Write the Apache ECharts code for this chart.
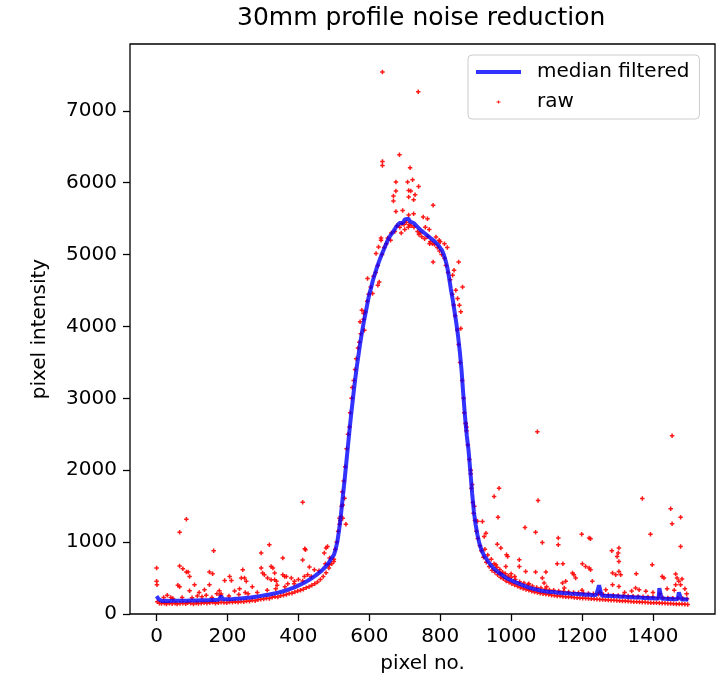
<!DOCTYPE html>
<html>
<head>
<meta charset="utf-8">
<script src="https://cdn.jsdelivr.net/npm/echarts@6/dist/echarts.min.js"></script>
<style>
html,body{margin:0;padding:0;background:#fff;}
#chart{width:724px;height:679px;}
</style>
</head>
<body>
<div id="chart"></div>
<script>
// ---- data ----
const chartTitle = '30mm profile noise reduction';
const xTicks = [0, 200, 400, 600, 800, 1000, 1200, 1400];
const yTicks = [0, 1000, 2000, 3000, 4000, 5000, 6000, 7000];

// median filtered profile [pixel no., intensity]
const medianFiltered = [
[0,250],[3,230],[6,205],[10,188],[15,182],[20,178],[25,185],[30,176],[35,182],[40,175],[45,183],[50,178],[55,184],[60,176],[65,183],[70,178],[75,186],[80,180],[85,185],[90,179],[95,187],[100,182],[105,188],[110,180],[115,187],[120,183],[125,190],[130,184],[135,191],[140,185],[145,193],[150,187],[155,195],[160,188],[165,196],[170,190],[175,198],[180,210],[183,250],[186,205],[190,198],[195,204],[200,198],[205,206],[210,200],[215,208],[220,203],[225,212],[230,206],[235,215],[240,210],[245,220],[250,215],[255,225],[260,220],[265,230],[270,226],[275,237],[280,232],[285,244],[290,240],[295,252],[300,248],[305,260],[310,256],[315,268],[320,265],[325,278],[330,275],[335,288],[340,286],[345,300],[350,298],[355,313],[360,312],[365,328],[370,328],[375,345],[380,346],[385,364],[390,366],[395,385],[400,388],[405,408],[410,412],[415,432],[420,438],[425,460],[430,468],[435,490],[440,500],[445,525],[450,535],[455,560],[460,572],[465,600],[470,615],[475,650],[480,670],[485,710],[490,735],[495,790],[500,820],[505,900],[510,1010],[515,1180],[520,1380],[525,1620],[530,1850],[535,2100],[540,2350],[545,2600],[550,2830],[555,3050],[560,3260],[565,3450],[570,3620],[575,3790],[580,3940],[585,4080],[590,4200],[595,4330],[600,4450],[605,4540],[610,4640],[615,4720],[620,4800],[625,4870],[630,4940],[635,5000],[640,5060],[645,5120],[650,5180],[655,5230],[660,5270],[665,5300],[670,5340],[675,5380],[680,5410],[685,5440],[690,5460],[695,5440],[700,5490],[705,5470],[710,5500],[715,5460],[720,5480],[725,5440],[730,5430],[735,5390],[740,5380],[745,5340],[750,5330],[755,5300],[760,5290],[765,5260],[770,5250],[775,5220],[780,5200],[785,5180],[790,5160],[795,5130],[800,5090],[805,5060],[810,5000],[815,4920],[820,4820],[825,4680],[830,4520],[835,4380],[840,4220],[845,4060],[850,3880],[855,3660],[860,3400],[865,3060],[870,2740],[875,2480],[880,2270],[885,1980],[890,1680],[895,1420],[900,1240],[905,1100],[910,990],[915,910],[920,850],[925,800],[930,770],[935,730],[940,700],[945,665],[950,640],[955,615],[960,600],[965,575],[970,560],[975,540],[980,530],[985,505],[990,500],[995,480],[1000,470],[1005,458],[1010,450],[1015,436],[1020,430],[1025,416],[1030,410],[1035,396],[1040,390],[1045,376],[1050,370],[1055,360],[1060,355],[1065,346],[1070,345],[1075,336],[1080,335],[1085,324],[1090,325],[1095,316],[1100,318],[1110,305],[1120,305],[1130,296],[1140,296],[1150,287],[1160,290],[1170,280],[1180,282],[1190,274],[1200,276],[1210,268],[1220,270],[1230,262],[1240,265],[1245,262],[1248,400],[1252,405],[1255,258],[1260,262],[1270,252],[1280,255],[1290,246],[1300,248],[1310,240],[1320,242],[1330,234],[1340,236],[1350,228],[1360,232],[1370,224],[1380,226],[1390,218],[1400,222],[1410,214],[1416,218],[1418,360],[1422,358],[1424,212],[1430,215],[1440,208],[1450,212],[1460,204],[1470,208],[1473,300],[1477,295],[1480,202],[1490,205],[1500,198]
];

// raw samples near the profile, left tail
const rawLeftTail = [
[2,170],[8,150],[14,145],[22,150],[28,140],[36,148],[44,142],[52,150],[58,138],[66,146],[74,150],[82,142],[88,155],[96,148],[104,140],[112,152],[118,145],[126,150],[134,158],[142,148],[150,155],[158,162],[166,150],[174,158],[182,165],[190,160],[198,155],[206,168],[214,162],[222,170],[230,165],[238,175],[246,170],[254,182],[262,178],[270,190],[278,185],[286,198],[294,205],[302,210],[310,220],[318,215],[326,232],[334,240],[342,238],[350,255],[358,262],[366,270],[374,285],[382,290],[390,305],[398,320],[406,330],[414,345],[422,365],[430,378],[438,400],[446,420],[454,445],[462,480],[470,520],[478,575],[486,640],[494,700],
[20,230],[46,215],[72,230],[100,225],[128,240],[156,230],[180,260],[204,250],[232,270],[258,280],[284,300],[312,330],[336,350],[362,380],[388,420],[412,460],[436,520],[458,600],[476,700],[488,780],
[30,260],[120,300],[220,320],[270,380],[140,260],[340,400],[370,420],[400,480],[250,300],[115,250],[40,230],[170,280]
];
// raw samples around the peak
const rawPeak = [
[500,760],[504,900],[508,1000],[512,1150],[516,1250],[518,1300],[522,1500],[524,1700],[528,1850],[532,2050],[536,2300],[540,2500],[544,2600],[546,2800],[550,3000],[552,3150],[556,3250],[560,3400],[563,3550],[568,3700],[572,3780],[576,3900],[584,4100],[588,4200],[594,4350],[598,4450],[604,4550],[612,4700],[618,4750],[624,4850],[636,5000],[642,5100],[648,5150],[652,5230],[662,5300],[672,5320],[678,5400],[686,5380],[692,5430],[698,5420],[704,5450],[712,5420],[718,5400],[726,5380],[736,5320],[744,5300],[748,5250],[756,5220],[764,5250],[772,5180],[778,5150],[784,5140],[792,5100],[798,5050],[804,5000],[812,4950],[816,4850],[822,4750],[828,4650],[834,4450],[838,4300],[842,4150],[848,3950],[852,3750],[856,3500],[862,3250],[866,3000],[868,2800],[872,2650],[874,2550],[878,2350],[882,2150],[886,1950],[888,1750],[892,1550],[894,1400],[898,1300],[902,1150],[906,1050],[912,950],[916,880],
[690,5300],[700,5350],[710,5380],[660,5200],[740,5280],[770,5150],[800,5180],[812,5150],[820,5100]
];
// raw samples near the profile, right tail
const rawRightTail = [
[922,790],[930,720],[938,660],[946,610],[954,580],[962,545],[970,510],[978,490],[986,460],[994,440],[1002,420],[1010,405],[1018,385],[1026,370],[1034,355],[1042,340],[1050,330],[1058,315],[1066,305],[1074,298],[1082,290],[1090,282],[1098,275],[1106,270],[1114,262],[1122,258],[1130,252],[1138,250],[1146,245],[1154,240],[1162,238],[1170,235],[1178,230],[1186,226],[1194,222],[1202,220],[1210,218],[1218,214],[1226,212],[1234,208],[1242,205],[1250,202],[1258,200],[1266,198],[1274,195],[1282,192],[1290,190],[1298,188],[1306,185],[1314,182],[1322,180],[1330,178],[1338,175],[1346,172],[1354,170],[1362,168],[1370,165],[1378,162],[1386,160],[1394,158],[1402,156],[1410,155],[1418,152],[1426,150],[1434,148],[1442,146],[1450,145],[1458,142],[1466,140],[1474,140],[1482,138],[1490,135],[1498,132],
[926,900],[934,820],[944,760],[952,700],[960,650],[968,620],[976,580],[984,560],[992,530],[1000,510],[1012,480],[1024,450],[1036,430],[1048,410],[1060,390],[1072,370],[1084,360],[1096,345],[1108,335],[1120,330],[1134,320],[1148,315],[1162,305],[1176,300],[1190,295],[1204,290],[1218,285],[1232,282],[1246,275],[1260,272],[1274,268],[1288,262],[1302,258],[1316,255],[1330,250],[1344,246],[1358,242],[1372,240],[1386,235],[1400,232],[1414,228],[1428,225],[1442,222],[1456,220],[1470,218],[1484,215],[1496,212]
];
// raw outliers (noise)
const rawOutliersLeft = [
[0,639],[0,454],[1,407],[60,400],[65,380],[65,1139],[84,1319],[65,667],[74,630],[84,583],[89,583],[93,523],[107,407],[93,324],[161,880],[149,583],[158,560],[149,407],[135,338],[192,467],[206,523],[211,467],[177,324],[182,278],[243,616],[239,500],[248,500],[253,454],[234,352],[295,847],[318,963],[295,639],[299,569],[304,546],[323,662],[328,639],[333,569],[313,500],[323,477],[356,778],[356,546],[361,523],[366,523],[333,477],[338,454],[412,1556],[418,907],[420,893],[412,750],[431,653],[380,500],[389,454],[417,523],[426,546],[445,616],[473,847],[478,917],[482,940],[520,1356],[516,1333],[525,1333],[525,1518],[530,1611],[534,1250],[500,731],[487,685]
];
const rawOutliersPeak = [
[637,7540],[738,7264],[685,6389],[637,6296],[637,6240],[715,6208],[675,6009],[708,6009],[722,6041],[739,5949],[675,5884],[711,5893],[717,5884],[668,5815],[711,5801],[729,5833],[668,5745],[725,5764],[780,5685],[675,5601],[694,5615],[711,5550],[725,5570],[752,5523],[764,5500],[758,5380],[769,5351],[633,5231],[633,5200],[788,5245],[797,5199],[626,5107],[619,5014],[780,4898],[852,4898],[839,4782],[835,4713],[595,4667],[628,4620],[624,4574],[863,4551],[844,4505],[609,4458],[849,4389],[854,4296],[579,4227],[584,4181],[858,4204],[574,4065],[586,3949],[858,3972]
];
const rawOutliersRight = [
[1074,2537],[1454,2481],[966,1750],[952,1634],[1076,1579],[1370,1606],[963,1347],[1450,1463],[1478,1347],[1454,1255],[1039,1204],[919,1287],[929,1125],[924,1079],[1069,1139],[1199,1111],[1393,1111],[1088,995],[1133,1056],[1133,962],[1220,1056],[1224,1046],[1478,940],[961,972],[971,917],[987,824],[990,801],[1023,754],[1023,662],[1130,699],[1146,699],[1201,699],[1210,662],[1220,639],[1224,616],[1284,880],[1304,917],[1302,847],[1299,801],[1304,731],[1398,685],[1353,560],[1286,569],[1295,546],[1304,593],[1309,546],[957,685],[985,662],[971,569],[1041,593],[1069,583],[1098,583],[1173,569],[1177,546],[1182,500],[1088,500],[1093,430],[1145,430],[1154,454],[1229,454],[1426,523],[1431,500],[1464,556],[1468,500],[1482,486],[1473,454],[1478,407],[1464,407],[1351,361],[1361,338],[1380,315],[1267,338],[1286,407],[1304,384],[872,2650],[874,2600],[886,2000],[890,1800],[896,1500],[905,1290],
[1320,300],[1340,320],[1400,300],[1420,280],[1440,350],[1460,330],[1490,350],[1495,280],[1250,300],[1200,330],[1100,380],[1150,360],[1050,420],[1000,560],[1010,520]
];

const rawAll = [].concat(rawLeftTail, rawPeak, rawRightTail, rawOutliersLeft, rawOutliersPeak, rawOutliersRight);

// ---- chart ----
const FONT = 'DejaVu Sans';
const plusSymbol = 'path://M1,0H2V1H3V2H2V3H1V2H0V1H1Z';
const plusLegendIcon = 'path://M0,0L0,0M45,20L45,20M22,8.5H23V9.5H24.5V10.5H23V11.5H22V10.5H20.5V9.5H22Z';
const lineLegendIcon = 'path://M0,0L0,0M45,20L45,20M0,8H45V12H0Z';
const plainNumber = v => String(v);

const chart = echarts.init(document.getElementById('chart'), null, {renderer: 'canvas'});
chart.setOption({
  animation: false,
  backgroundColor: '#fff',
  title: {
    text: chartTitle,
    left: 237,
    top: 6,
    padding: 0,
    textStyle: {fontFamily: FONT, fontSize: 25, fontWeight: 'normal', color: '#000'}
  },
  grid: {
    left: 130, right: 9, top: 44, bottom: 63,
    show: true, borderColor: '#000', borderWidth: 1.3, backgroundColor: 'transparent'
  },
  legend: {
    orient: 'vertical',
    left: 468,
    top: 55,
    padding: [7, 10, 7, 8],
    itemWidth: 45,
    itemHeight: 20,
    itemGap: 10,
    borderColor: '#cccccc',
    borderWidth: 1,
    borderRadius: 4,
    backgroundColor: 'rgba(255,255,255,0.8)',
    textStyle: {fontFamily: FONT, fontSize: 20, color: '#000', padding: [0, 0, 0, 11]},
    data: [
      {name: 'median filtered', icon: lineLegendIcon, itemStyle: {color: '#0000ff', opacity: 0.8}},
      {name: 'raw', icon: plusLegendIcon}
    ]
  },
  xAxis: {
    type: 'value',
    min: -75,
    max: 1575,
    name: 'pixel no.',
    nameLocation: 'middle',
    nameGap: 40,
    nameTextStyle: {fontFamily: FONT, fontSize: 20, color: '#000'},
    axisLine: {show: false, onZero: false},
    axisTick: {show: true, inside: false, length: 7, customValues: xTicks, lineStyle: {color: '#000', width: 1.3}},
    axisLabel: {customValues: xTicks, margin: 13, fontFamily: FONT, fontSize: 20, color: '#000', formatter: plainNumber},
    splitLine: {show: false}
  },
  yAxis: {
    type: 'value',
    min: 0,
    max: 7930,
    name: 'pixel intensity',
    nameLocation: 'middle',
    nameGap: 80,
    nameTextStyle: {fontFamily: FONT, fontSize: 20, color: '#000'},
    axisLine: {show: false, onZero: false},
    axisTick: {show: true, inside: false, length: 7, customValues: yTicks, lineStyle: {color: '#000', width: 1.3}},
    axisLabel: {customValues: yTicks, margin: 13, fontFamily: FONT, fontSize: 20, color: '#000', formatter: plainNumber},
    splitLine: {show: false}
  },
  series: [
    {
      name: 'median filtered',
      type: 'line',
      data: medianFiltered,
      showSymbol: false,
      symbol: 'none',
      z: 3,
      lineStyle: {color: '#0000ff', width: 4, opacity: 0.8},
      itemStyle: {color: '#0000ff', opacity: 0.8}
    },
    {
      name: 'raw',
      type: 'scatter',
      data: rawAll,
      symbol: plusSymbol,
      symbolSize: 4.5,
      z: 2,
      itemStyle: {color: '#ff0000', opacity: 0.9}
    }
  ]
});
</script>
</body>
</html>
